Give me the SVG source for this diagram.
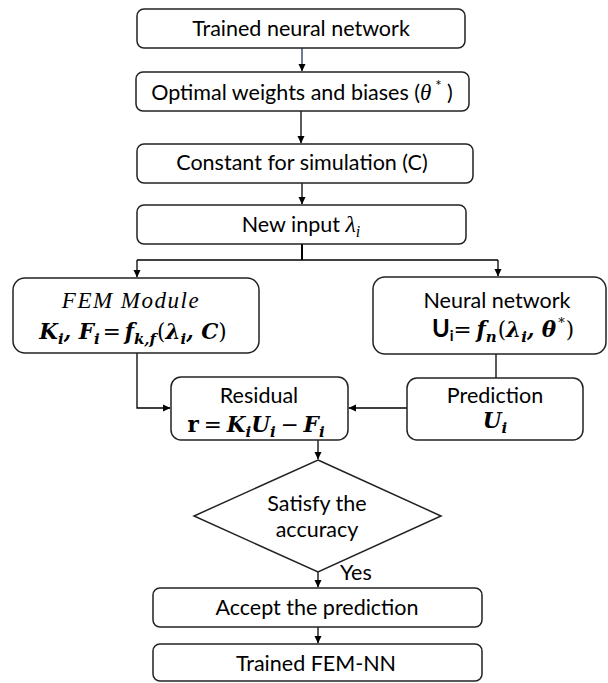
<svg xmlns="http://www.w3.org/2000/svg" width="608" height="683" viewBox="0 0 608 683">
<style>
.box{fill:#fff;stroke:#222;stroke-width:1.5}
.t{font-family:Lato,"Liberation Sans",sans-serif;font-size:21.5px;fill:#000}
.m{font-family:"DejaVu Serif",serif;font-size:21.5px;font-weight:bold;font-style:italic;fill:#000}
.n{font-style:normal;font-weight:normal}
.s{font-size:15px}
.c{fill:none;stroke:#000;stroke-width:1.3}
</style>
<defs>
<marker id="ah" markerWidth="8" markerHeight="8" refX="7" refY="4" orient="auto" markerUnits="userSpaceOnUse">
<path d="M0,0.5 L7.5,4 L0,7.5 Z" fill="#000"/>
</marker>
</defs>
<g id="connectors">
<line class="c" x1="302" y1="48" x2="302" y2="71" style="stroke:#1f3864" marker-end="url(#ah)"/>
<line class="c" x1="301" y1="111" x2="301" y2="143" marker-end="url(#ah)"/>
<line class="c" x1="302" y1="183" x2="302" y2="204" marker-end="url(#ah)"/>
<path class="c" d="M302,244 V260" style="stroke-width:2"/>
<path class="c" d="M137,260 H498"/>
<line class="c" x1="137" y1="260" x2="137" y2="277" marker-end="url(#ah)"/>
<line class="c" x1="498" y1="260" x2="498" y2="276" marker-end="url(#ah)"/>
<path class="c" d="M137,353 V408 H170" marker-end="url(#ah)"/>
<path class="c" d="M496,354 V378"/>
<line class="c" x1="407" y1="408" x2="349" y2="408" marker-end="url(#ah)"/>
<line class="c" x1="318" y1="440" x2="318" y2="459" marker-end="url(#ah)"/>
<line class="c" x1="318" y1="572" x2="318" y2="587" marker-end="url(#ah)"/>
<line class="c" x1="318" y1="627" x2="318" y2="643" marker-end="url(#ah)"/>
<text class="t" x="340" y="580">Yes</text>
</g>
<g id="n1">
<rect class="box" x="137" y="9" width="328" height="39" rx="7"/>
<text class="t" x="301" y="36" text-anchor="middle">Trained neural network</text>
</g>
<g id="n2">
<rect class="box" x="136" y="72" width="333" height="39" rx="7"/>
<text class="t" x="302" y="100" text-anchor="middle">Optimal weights and biases (<tspan font-family="Liberation Serif,serif" font-style="italic" font-size="23">θ</tspan><tspan dy="-9" font-size="15"> *</tspan><tspan dy="9"> )</tspan></text>
</g>
<g id="n3">
<rect class="box" x="137" y="144" width="336" height="39" rx="7"/>
<text class="t" x="302" y="170" text-anchor="middle">Constant for simulation (C)</text>
</g>
<g id="n4">
<rect class="box" x="137" y="205" width="329" height="39" rx="7"/>
<text class="t" x="301" y="232" text-anchor="middle">New input <tspan font-family="Liberation Serif,serif" font-style="italic" font-size="24">λ</tspan><tspan dy="5" font-family="Liberation Serif,serif" font-style="italic" font-size="16">i</tspan></text>
</g>
<g id="fem">
<rect class="box" x="13" y="278" width="246" height="75" rx="12"/>
<text x="131" y="308" text-anchor="middle" font-family="Liberation Serif,serif" font-style="italic" font-size="23" letter-spacing="1.5">FEM Module</text>
<text class="m" x="133" y="339" text-anchor="middle">K<tspan class="s" dy="5">i</tspan><tspan dy="-5">, F</tspan><tspan class="s" dy="5">i</tspan><tspan dy="-5" class="n" dx="3">=</tspan><tspan dx="4">f</tspan><tspan class="s" dy="5">k,f</tspan><tspan dy="-5" class="n" dx="1">(</tspan><tspan>λ</tspan><tspan class="s" dy="5">i</tspan><tspan dy="-5">, C</tspan><tspan class="n">)</tspan></text>
</g>
<g id="nn">
<rect class="box" x="373" y="277" width="233" height="77" rx="12"/>
<text class="t" x="497" y="308" text-anchor="middle">Neural network</text>
<text class="m" x="503" y="337" text-anchor="middle"><tspan font-family="Lato,sans-serif" font-style="normal" font-weight="bold" font-size="24">U</tspan><tspan font-family="Lato,sans-serif" font-style="normal" font-weight="bold" font-size="15" dy="4">i</tspan><tspan dy="-4" class="n">=</tspan><tspan dx="5">f</tspan><tspan class="s" dy="5">n</tspan><tspan dy="-5" class="n" dx="1">(</tspan><tspan>λ</tspan><tspan class="s" dy="5">i</tspan><tspan dy="-5">, θ</tspan><tspan class="n" font-size="13" dy="-10" dx="2">*</tspan><tspan class="n" dy="10" dx="1">)</tspan></text>
</g>
<g id="residual">
<rect class="box" x="171" y="377" width="177" height="63" rx="10"/>
<text class="t" x="259" y="403" text-anchor="middle">Residual</text>
<text class="m" x="256" y="432" text-anchor="middle"><tspan font-style="normal">r</tspan><tspan class="n" dx="5">=</tspan><tspan dx="5">K</tspan><tspan class="s" dy="5">i</tspan><tspan dy="-5">U</tspan><tspan class="s" dy="5">i</tspan><tspan dy="-5" class="n" dx="5">−</tspan><tspan dx="5">F</tspan><tspan class="s" dy="5">i</tspan></text>
</g>
<g id="prediction">
<rect class="box" x="407" y="378" width="176" height="62" rx="10"/>
<text class="t" x="495" y="403" text-anchor="middle">Prediction</text>
<text class="m" x="495" y="428" text-anchor="middle">U<tspan class="s" dy="5">i</tspan></text>
</g>
<g id="decision">
<polygon class="box" points="318,460 441,516 318,572 194,516"/>
<text class="t" x="317" y="511" text-anchor="middle">Satisfy the</text>
<text class="t" x="317" y="537" text-anchor="middle">accuracy</text>
</g>
<g id="accept">
<rect class="box" x="153" y="588" width="329" height="39" rx="7"/>
<text class="t" x="317" y="615" text-anchor="middle">Accept the prediction</text>
</g>
<g id="final">
<rect class="box" x="153" y="644" width="329" height="37" rx="7"/>
<text class="t" x="316" y="671" text-anchor="middle">Trained FEM-NN</text>
</g>
</svg>
